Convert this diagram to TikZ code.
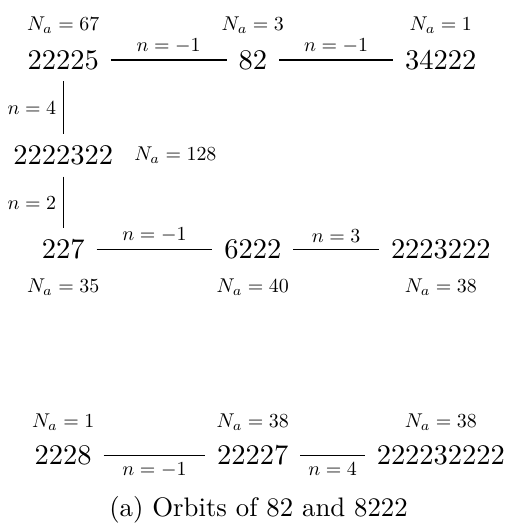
\documentclass[tikz,border=0pt]{standalone}
\usepackage{amsmath}
\usetikzlibrary{positioning}

\begin{document}
\begin{tikzpicture}[
        word/.style={
            inner xsep=4pt,
            inner ysep=4pt
        },
        count/.style={
            scale=0.7,
            transform shape
        },
        elabel/.style={
            scale=0.7,
            transform shape
        },
        edge/.style={
            draw=black,
            line width=0.4pt
        }
    ]

    \useasboundingbox (0,0) rectangle (6.29,-6.54);

    % Orbit of 82
    \node[word] (a1) at (0.78,-0.74) {$22225$};
    \node[word] (a2) at (3.12,-0.74) {$82$};
    \node[word] (a3) at (5.44,-0.74) {$34222$};
    \node[word] (b1) at (0.78,-1.92) {$2222322$};
    \node[word] (c1) at (0.78,-3.08) {$227$};
    \node[word] (c2) at (3.12,-3.08) {$6222$};
    \node[word] (c3) at (5.44,-3.08) {$2223222$};

    % Orbit of 8222
    \node[word] (d1) at (0.78,-5.62) {$2228$};
    \node[word] (d2) at (3.12,-5.62) {$22227$};
    \node[word] (d3) at (5.44,-5.62) {$222232222$};

    % Counts
    \node[count, above=-0.5pt of a1] (na1) {$N_a = 67$};
    \node[count, above=-0.5pt of a2] (na2) {$N_a = 3$};
    \node[count, above=-0.5pt of a3] (na3) {$N_a = 1$};
    \node[count, right=0.8pt of b1] (nb1) {$N_a = 128$};
    \node[count, below=0.4pt of c1] (nc1) {$N_a = 35$};
    \node[count, below=0.4pt of c2] (nc2) {$N_a = 40$};
    \node[count, below=0.4pt of c3] (nc3) {$N_a = 38$};
    \node[count, above=-1.2pt of d1] (nd1) {$N_a = 1$};
    \node[count, above=-1.2pt of d2] (nd2) {$N_a = 38$};
    \node[count, above=-1.2pt of d3] (nd3) {$N_a = 38$};

    % Edges
    \draw[edge] (a1) -- node[elabel, above] (e1) {$n = -1$} (a2);
    \draw[edge] (a2) -- node[elabel, above] (e2) {$n = -1$} (a3);
    \draw[edge] (a1) -- node[elabel, left] (e3) {$n = 4$} (b1);
    \draw[edge] (b1) -- node[elabel, left] (e4) {$n = 2$} (c1);
    \draw[edge] (c1) -- node[elabel, above] (e5) {$n = -1$} (c2);
    \draw[edge] (c2) -- node[elabel, above] (e6) {$n = 3$} (c3);
    \draw[edge] (d1) -- node[elabel, below] (e7) {$n = -1$} (d2);
    \draw[edge] (d2) -- node[elabel, below] (e8) {$n = 4$} (d3);

    % Caption
    \node[scale=0.94, transform shape] (cap) at (3.19,-6.29) {(a) Orbits of 82 and 8222};

\end{tikzpicture}
\end{document}
